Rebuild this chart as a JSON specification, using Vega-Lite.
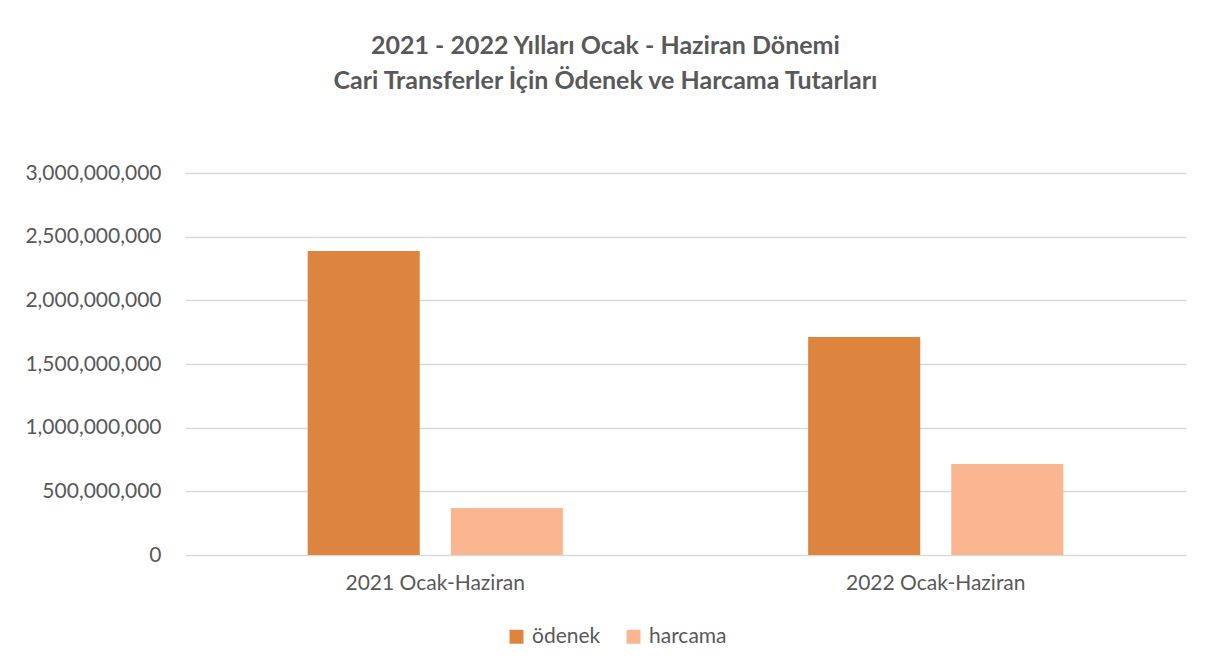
{
  "$schema": "https://vega.github.io/schema/vega-lite/v6.json",
  "autosize": {"type": "none"},
  "width": 1001,
  "height": 382,
  "padding": {"left": 185, "right": 26, "top": 173, "bottom": 117},
  "background": "white",
  "title": {
    "text": ["2021 - 2022 Yılları Ocak - Haziran Dönemi", "Cari Transferler İçin Ödenek ve Harcama Tutarları"],
    "font": "Lato",
    "fontSize": 25,
    "fontWeight": "bold",
    "color": "#595959",
    "anchor": "middle",
    "frame": "bounds",
    "lineHeight": 35,
    "offset": 68
  },
  "data": {
    "values": [
      {"donem": "2021 Ocak-Haziran", "tur": "ödenek", "tutar": 2387000000},
      {"donem": "2021 Ocak-Haziran", "tur": "harcama", "tutar": 369000000},
      {"donem": "2022 Ocak-Haziran", "tur": "ödenek", "tutar": 1712000000},
      {"donem": "2022 Ocak-Haziran", "tur": "harcama", "tutar": 715000000}
    ]
  },
  "mark": {"type": "bar"},
  "encoding": {
    "x": {
      "field": "donem",
      "type": "nominal",
      "scale": {"paddingInner": 0, "paddingOuter": 0},
      "axis": {
        "title": null,
        "labelAngle": 0,
        "domain": false,
        "ticks": false,
        "labelFont": "Lato",
        "labelFontSize": 21,
        "labelColor": "#595959",
        "labelPadding": 17
      }
    },
    "xOffset": {
      "field": "tur",
      "type": "nominal",
      "sort": ["ödenek", "harcama"],
      "scale": {"paddingInner": 0.217, "paddingOuter": 0.857}
    },
    "y": {
      "field": "tutar",
      "type": "quantitative",
      "scale": {"domain": [0, 3000000000]},
      "axis": {
        "title": null,
        "values": [0, 500000000, 1000000000, 1500000000, 2000000000, 2500000000, 3000000000],
        "format": ",d",
        "domain": false,
        "ticks": false,
        "labelFont": "Lato",
        "labelFontSize": 21,
        "labelColor": "#595959",
        "labelPadding": 24,
        "gridColor": "#d9d9d9",
        "gridWidth": 1.5
      }
    },
    "color": {
      "field": "tur",
      "type": "nominal",
      "sort": ["ödenek", "harcama"],
      "scale": {"domain": ["ödenek", "harcama"], "range": ["#dd843e", "#f9b690"]},
      "legend": {
        "title": null,
        "orient": "none",
        "direction": "horizontal",
        "legendX": 321,
        "legendY": 453,
        "symbolType": "square",
        "symbolSize": 196,
        "symbolStrokeWidth": 0,
        "labelFont": "Lato",
        "labelFontSize": 21,
        "labelColor": "#595959",
        "columnPadding": 22,
        "labelOffset": 5
      }
    }
  },
  "config": {"view": {"stroke": null}}
}
